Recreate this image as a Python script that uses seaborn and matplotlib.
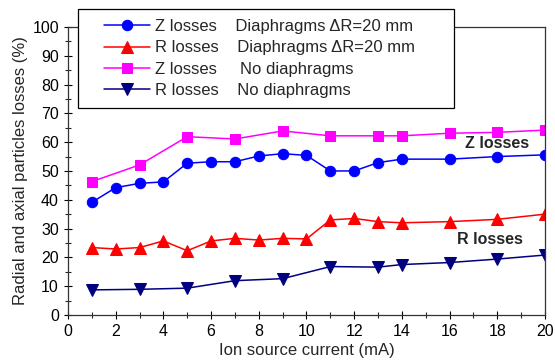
import matplotlib
matplotlib.use("Agg")
import matplotlib.pyplot as plt
import pandas as pd
import seaborn as sns
from matplotlib.lines import Line2D
from matplotlib.legend_handler import HandlerLine2D
from matplotlib.ticker import MultipleLocator

# values
x_full = [1, 2, 3, 4, 5, 6, 7, 8, 9, 10, 11, 12, 13, 14, 16, 18, 20]
x_part = [1, 3, 5, 7, 9, 11, 13, 14, 16, 18, 20]

z_diaph = [39.1, 44.2, 45.7, 46.2, 52.7, 53.2, 53.2, 55.2, 56, 55.4, 50, 50, 52.9, 54.1, 54.1, 55, 55.6]
r_diaph = [23.4, 22.9, 23.4, 25.7, 22.3, 25.7, 26.6, 26, 26.6, 26.4, 33, 33.5, 32.4, 32, 32.4, 33.2, 35]
z_nodiaph = [46.3, 52.1, 61.9, 61.1, 63.9, 62.2, 62.2, 62.2, 63.1, 63.4, 64.2]
r_nodiaph = [8.7, 8.9, 9.3, 11.9, 12.6, 16.8, 16.6, 17.5, 18.2, 19.4, 20.8]

labels = [
    "Z losses    Diaphragms \u0394R=20 mm",
    "R losses    Diaphragms \u0394R=20 mm",
    "Z losses     No diaphragms",
    "R losses    No diaphragms",
]

sns.set_style("ticks")
plt.rcParams["font.family"] = ["Liberation Sans", "DejaVu Sans"]

fig = plt.figure(figsize=(5.55, 3.62), dpi=100)
ax = fig.add_axes([0.1225, 0.13, 0.8595, 0.7955])

series = [
    (x_full, z_diaph, labels[0], "#0000ff", "o", 7.5),
    (x_full, r_diaph, labels[1], "#ff0000", "^", 8),
    (x_part, z_nodiaph, labels[2], "#ff00ff", "s", 6.5),
    (x_part, r_nodiaph, labels[3], "#000080", "v", 8),
]
for xs, ys, lab, col, mk, ms in series:
    df = pd.DataFrame({"x": xs, "y": ys})
    sns.lineplot(data=df, x="x", y="y", ax=ax, color=col, marker=mk,
                 markersize=ms, markeredgecolor=col, linewidth=1.1, label=lab)

ax.set_xlim(0, 20)
ax.set_ylim(0, 100)
ax.xaxis.set_major_locator(MultipleLocator(2))
ax.xaxis.set_minor_locator(MultipleLocator(1))
ax.yaxis.set_major_locator(MultipleLocator(10))
ax.yaxis.set_minor_locator(MultipleLocator(5))
ax.tick_params(which="major", direction="inout", length=6, width=0.8,
               labelsize=11.5, colors="black")
ax.tick_params(which="minor", direction="inout", length=4, width=0.8)
for s in ax.spines.values():
    s.set_linewidth(0.9)
    s.set_color("#333333")

ax.set_xlabel("Ion source current (mA)", fontsize=12, labelpad=3)
ax.set_ylabel("Radial and axial particles losses (%)", fontsize=12, labelpad=3)

ax.text(18.0, 59.5, "Z losses", fontsize=11.5, fontweight="bold",
        ha="center", va="center")
ax.text(17.7, 26.3, "R losses", fontsize=11.5, fontweight="bold",
        ha="center", va="center")

# legend: indented handles, box wider than its text like the original
fs = 12
fs_px = fs * 100 / 72
leg_w = (454 - 78) / 477
leg = ax.legend(loc="upper left", bbox_to_anchor=(0.021, 0.0, leg_w, 1.063),
                mode="expand", fontsize=fs, frameon=True, fancybox=False,
                edgecolor="black", handlelength=(16 + 46) / fs_px,
                labelspacing=0.38, borderpad=0.62, handletextpad=0.3,
                borderaxespad=0,
                handler_map={Line2D: HandlerLine2D(xpad=16 / fs_px)})
leg.get_frame().set_linewidth(0.9)
leg.set_zorder(5)
leg.get_frame().set_alpha(1)

fig.savefig("out.png", dpi=100)
